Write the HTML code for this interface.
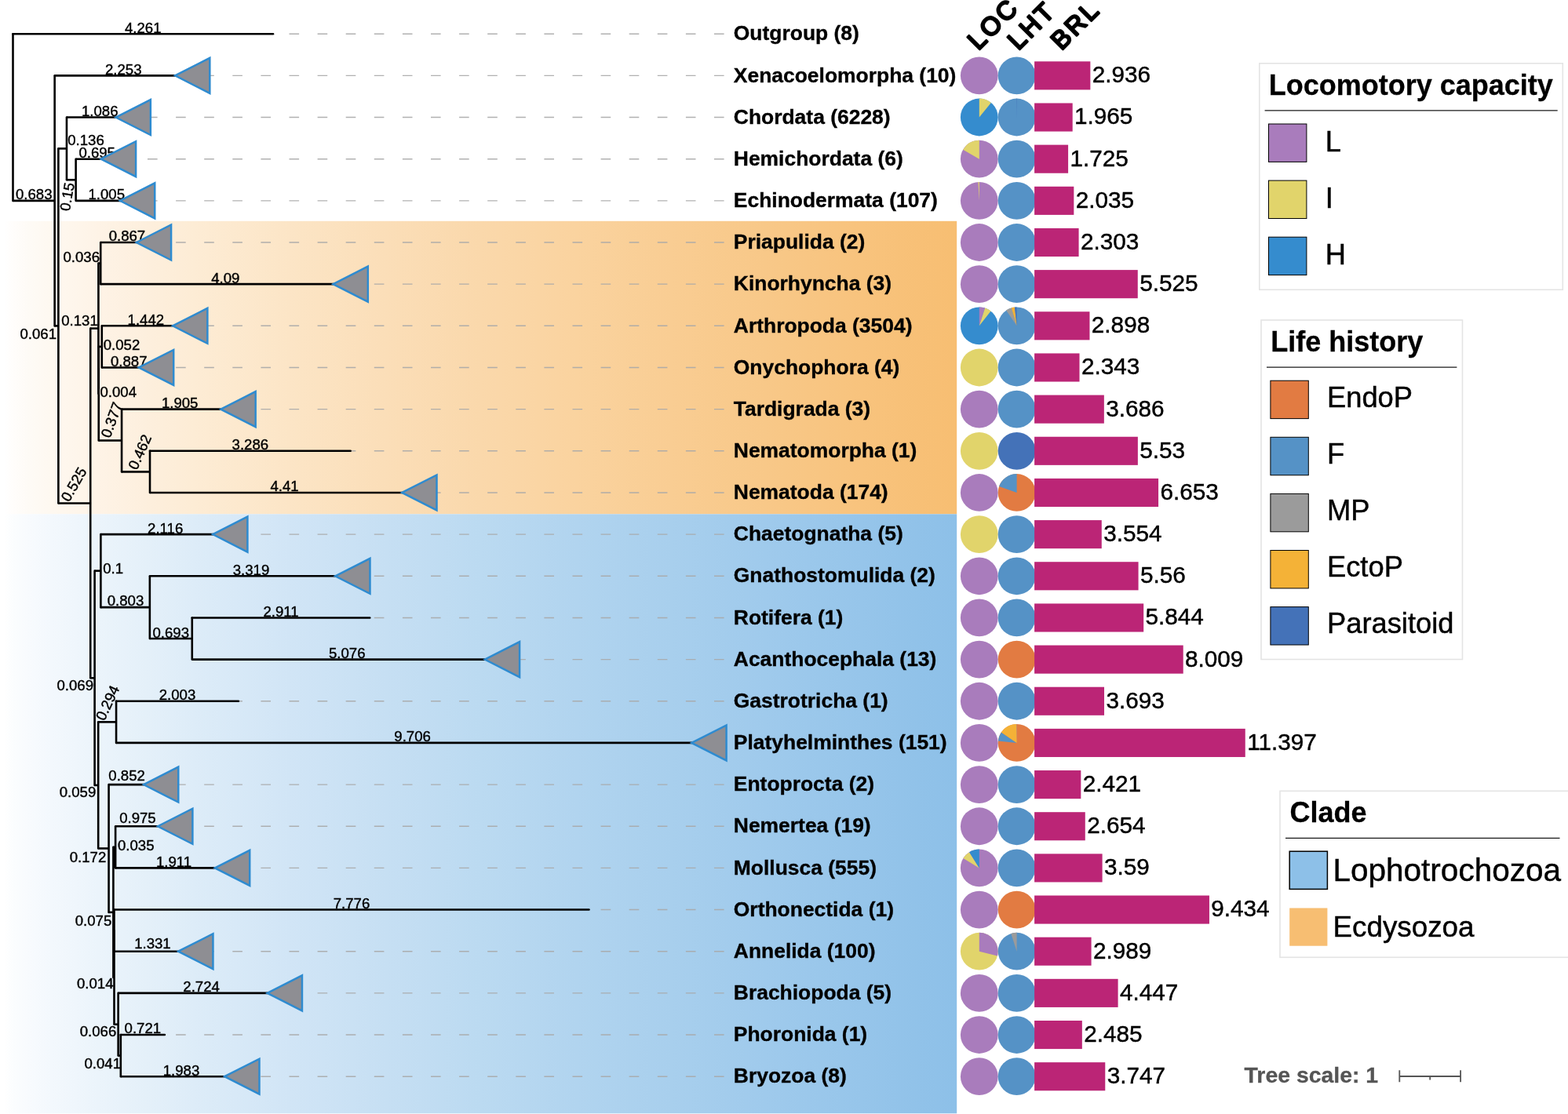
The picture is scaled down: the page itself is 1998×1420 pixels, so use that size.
<!DOCTYPE html>
<html lang="en"><head><meta charset="utf-8"><title>Phylogenetic tree</title>
<style>
html,body{margin:0;padding:0;background:#fff;}
body{width:1998px;height:1420px;overflow:hidden;}
svg{display:block;}
text{font-family:"Liberation Sans",sans-serif;}
.bl{font-size:18.6px;fill:#000;stroke:#000;stroke-width:0.4;}
.lf{font-size:26.45px;font-weight:bold;fill:#000;stroke:#000;stroke-width:0.35;}
.val{font-size:29.7px;fill:#000;stroke:#000;stroke-width:0.45;}
.hd{font-size:32.5px;fill:#000;stroke:#000;stroke-width:2.6;stroke-linejoin:round;stroke-linecap:round;letter-spacing:3px;}
.lt{font-size:36px;font-weight:bold;fill:#000;stroke:#000;stroke-width:0.3;}
.li{font-size:36.3px;fill:#000;stroke:#000;stroke-width:0.45;}
.lc{font-size:40.5px;fill:#000;stroke:#000;stroke-width:0.45;}
.lc2{font-size:36.8px;fill:#000;stroke:#000;stroke-width:0.45;}
.ts{font-size:28.4px;font-weight:bold;fill:#555;stroke:#555;stroke-width:0.3;}
</style></head><body>
<svg width="1998" height="1420" viewBox="0 0 1998 1420">
<defs>
<linearGradient id="gO" x1="0" y1="0" x2="1" y2="0"><stop offset="0" stop-color="#ffffff"/><stop offset="0.01" stop-color="#fffdfb"/><stop offset="0.025" stop-color="#fefbf6"/><stop offset="0.05" stop-color="#fef8f0"/><stop offset="0.1" stop-color="#fef3e6"/><stop offset="0.15" stop-color="#fdefdd"/><stop offset="0.2" stop-color="#fdecd5"/><stop offset="0.3" stop-color="#fce5c6"/><stop offset="0.4" stop-color="#fbdeb8"/><stop offset="0.5" stop-color="#fad8ab"/><stop offset="0.6" stop-color="#fad39f"/><stop offset="0.7" stop-color="#f9cd93"/><stop offset="0.8" stop-color="#f8c888"/><stop offset="0.9" stop-color="#f8c37d"/><stop offset="1" stop-color="#f7be72"/></linearGradient>
<linearGradient id="gB" x1="0" y1="0" x2="1" y2="0"><stop offset="0" stop-color="#ffffff"/><stop offset="0.01" stop-color="#fbfdfe"/><stop offset="0.025" stop-color="#f8fbfe"/><stop offset="0.05" stop-color="#f3f8fd"/><stop offset="0.1" stop-color="#ebf4fb"/><stop offset="0.15" stop-color="#e4f0f9"/><stop offset="0.2" stop-color="#ddecf8"/><stop offset="0.3" stop-color="#d1e5f6"/><stop offset="0.4" stop-color="#c6dff3"/><stop offset="0.5" stop-color="#bbdaf1"/><stop offset="0.6" stop-color="#b1d4ef"/><stop offset="0.7" stop-color="#a8cfed"/><stop offset="0.8" stop-color="#9fcaec"/><stop offset="0.9" stop-color="#96c5ea"/><stop offset="1" stop-color="#8dc0e8"/></linearGradient>
</defs>
<rect x="0" y="0" width="1998" height="1420" fill="#fff"/>
<rect x="5" y="281.8" width="1214.2" height="373.5" fill="url(#gO)"/>
<rect x="5" y="655.3" width="1214.2" height="764" fill="url(#gB)"/>

<g stroke="#a8a8a8" stroke-opacity="0.9" stroke-width="1.4" fill="none" stroke-dasharray="12.6 23.5">
<path d="M922.6 43.20H348.01"/>
<path d="M922.6 96.36H244.92"/>
<path d="M922.6 149.52H169.45"/>
<path d="M922.6 202.68H150.70"/>
<path d="M922.6 255.84H174.82"/>
<path d="M922.6 309.00H195.67"/>
<path d="M922.6 362.16H446.42"/>
<path d="M922.6 415.32H241.96"/>
<path d="M922.6 468.48H198.79"/>
<path d="M922.6 521.64H303.27"/>
<path d="M922.6 574.80H446.66"/>
<path d="M922.6 627.96H534.10"/>
<path d="M922.6 681.12H293.00"/>
<path d="M922.6 734.28H449.07"/>
<path d="M922.6 787.44H471.24"/>
<path d="M922.6 840.60H639.68"/>
<path d="M922.6 893.76H303.89"/>
<path d="M922.6 946.92H903.19"/>
<path d="M922.6 1000.08H204.85"/>
<path d="M922.6 1053.24H222.98"/>
<path d="M922.6 1106.40H295.80"/>
<path d="M922.6 1159.56H750.47"/>
<path d="M922.6 1212.72H249.04"/>
<path d="M922.6 1265.88H362.55"/>
<path d="M922.6 1319.04H209.91"/>
<path d="M922.6 1372.20H308.09"/>
</g>
<g class="bl" text-anchor="middle">
<text x="182.25" y="41.60">4.261</text>
<text x="157.28" y="94.76">2.253</text>
<text x="127.21" y="147.92">1.086</text>
<text x="123.67" y="201.08">0.695</text>
<text x="135.73" y="254.24">1.005</text>
<text x="161.95" y="307.40">0.867</text>
<text x="287.32" y="360.56">4.09</text>
<text x="185.87" y="413.72">1.442</text>
<text x="164.28" y="466.88">0.887</text>
<text x="229.17" y="520.04">1.905</text>
<text x="318.83" y="573.20">3.286</text>
<text x="362.55" y="626.36">4.41</text>
<text x="210.69" y="679.52">2.116</text>
<text x="319.96" y="732.68">3.319</text>
<text x="358.00" y="785.84">2.911</text>
<text x="442.22" y="839.00">5.076</text>
<text x="225.98" y="892.16">2.003</text>
<text x="525.62" y="945.32">9.706</text>
<text x="161.60" y="995.40">0.852</text>
<text x="175.40" y="1048.60">0.975</text>
<text x="221.46" y="1104.80">1.911</text>
<text x="447.98" y="1157.96">7.776</text>
<text x="194.40" y="1208.90">1.331</text>
<text x="256.59" y="1264.28">2.724</text>
<text x="181.86" y="1317.44">0.721</text>
<text x="230.96" y="1370.60">1.983</text>
</g>
<g class="bl">
<text x="20.00" y="253.75">0.683</text>
<text x="86.25" y="184.50">0.136</text>
<text x="80.50" y="333.75">0.036</text>
<text x="78.25" y="414.50">0.131</text>
<text x="25.50" y="432.30">0.061</text>
<text x="131.75" y="446.25">0.052</text>
<text x="127.50" y="506.25">0.004</text>
<text x="131.25" y="730.75">0.1</text>
<text x="136.75" y="772.00">0.803</text>
<text x="194.50" y="812.50">0.693</text>
<text x="72.50" y="879.50">0.069</text>
<text x="75.75" y="1016.25">0.059</text>
<text x="150.00" y="1084.25">0.035</text>
<text x="88.75" y="1098.75">0.172</text>
<text x="95.75" y="1179.50">0.075</text>
<text x="98.00" y="1259.50">0.014</text>
<text x="101.75" y="1321.25">0.066</text>
<text x="107.50" y="1361.75">0.041</text>
</g>
<g class="bl" text-anchor="middle">
<text transform="translate(85.5 250.7) rotate(-80)" x="0" y="6.4">0.15</text>
<text transform="translate(142.2 535.2) rotate(-70)" x="0" y="6.4">0.377</text>
<text transform="translate(178.2 576.2) rotate(-66)" x="0" y="6.4">0.462</text>
<text transform="translate(94 617.5) rotate(-60)" x="0" y="6.4">0.525</text>
<text transform="translate(137 896) rotate(-65)" x="0" y="6.4">0.294</text>
</g>
<g stroke="#000" stroke-width="2.6" fill="none" stroke-linecap="round" stroke-linejoin="round">
<path d="M16.50 43.20L16.50 255.89"/>
<path d="M16.50 43.20L348.01 43.20"/>
<path d="M69.64 96.36L69.64 415.42"/>
<path d="M74.38 189.39L74.38 641.46"/>
<path d="M84.96 149.52L84.96 229.26"/>
<path d="M96.63 202.68L96.63 255.84"/>
<path d="M115.23 418.64L115.23 864.27"/>
<path d="M125.42 335.58L125.42 501.70"/>
<path d="M128.22 309.00L128.22 362.16"/>
<path d="M125.73 441.90L125.73 561.51"/>
<path d="M129.78 415.32L129.78 468.48"/>
<path d="M155.06 521.64L155.06 601.38"/>
<path d="M191.01 574.80L191.01 627.96"/>
<path d="M191.01 574.80L446.66 574.80"/>
<path d="M120.60 727.63L120.60 1000.91"/>
<path d="M128.38 681.12L128.38 774.15"/>
<path d="M190.85 734.28L190.85 814.02"/>
<path d="M244.77 787.44L244.77 840.60"/>
<path d="M244.77 787.44L471.24 787.44"/>
<path d="M125.19 920.34L125.19 1081.48"/>
<path d="M148.06 893.76L148.06 946.92"/>
<path d="M148.06 893.76L303.89 893.76"/>
<path d="M138.57 1000.08L138.57 1162.88"/>
<path d="M144.40 1079.82L144.40 1245.94"/>
<path d="M147.13 1053.24L147.13 1106.40"/>
<path d="M145.49 1186.14L145.49 1305.75"/>
<path d="M145.49 1159.56L145.49 1212.72"/>
<path d="M145.49 1159.56L750.47 1159.56"/>
<path d="M150.63 1265.88L150.63 1345.62"/>
<path d="M153.82 1319.04L153.82 1372.20"/>
<path d="M153.82 1319.04L209.91 1319.04"/>
</g>
<rect x="144.40" y="1079.82" width="2.72" height="26.58" fill="#000"/>
<g stroke="#000" stroke-width="2.6" fill="none" stroke-linecap="butt">
<path d="M16.50 255.89L69.64 255.89"/>
<path d="M69.64 96.36L224.92 96.36"/>
<path d="M69.64 415.42L74.38 415.42"/>
<path d="M74.38 189.39L84.96 189.39"/>
<path d="M84.96 149.52L149.45 149.52"/>
<path d="M84.96 229.26L96.63 229.26"/>
<path d="M96.63 202.68L130.70 202.68"/>
<path d="M96.63 255.84L154.82 255.84"/>
<path d="M74.38 641.46L115.23 641.46"/>
<path d="M115.23 418.64L125.42 418.64"/>
<path d="M125.42 335.58L128.22 335.58"/>
<path d="M128.22 309.00L175.67 309.00"/>
<path d="M128.22 362.16L426.42 362.16"/>
<path d="M125.42 501.70L125.73 501.70"/>
<path d="M125.73 441.90L129.78 441.90"/>
<path d="M129.78 415.32L221.96 415.32"/>
<path d="M129.78 468.48L178.79 468.48"/>
<path d="M125.73 561.51L155.06 561.51"/>
<path d="M155.06 521.64L283.27 521.64"/>
<path d="M155.06 601.38L191.01 601.38"/>
<path d="M191.01 627.96L514.10 627.96"/>
<path d="M115.23 864.27L120.60 864.27"/>
<path d="M120.60 727.63L128.38 727.63"/>
<path d="M128.38 681.12L273.00 681.12"/>
<path d="M128.38 774.15L190.85 774.15"/>
<path d="M190.85 734.28L429.07 734.28"/>
<path d="M190.85 814.02L244.77 814.02"/>
<path d="M244.77 840.60L619.68 840.60"/>
<path d="M120.60 1000.91L125.19 1000.91"/>
<path d="M125.19 920.34L148.06 920.34"/>
<path d="M148.06 946.92L883.19 946.92"/>
<path d="M125.19 1081.48L138.57 1081.48"/>
<path d="M138.57 1000.08L184.85 1000.08"/>
<path d="M138.57 1162.88L144.40 1162.88"/>
<path d="M144.40 1079.82L147.13 1079.82"/>
<path d="M147.13 1053.24L202.98 1053.24"/>
<path d="M147.13 1106.40L275.80 1106.40"/>
<path d="M144.40 1245.94L145.49 1245.94"/>
<path d="M145.49 1212.72L229.04 1212.72"/>
<path d="M145.49 1305.75L150.63 1305.75"/>
<path d="M150.63 1265.88L342.55 1265.88"/>
<path d="M150.63 1345.62L153.82 1345.62"/>
<path d="M153.82 1372.20L288.09 1372.20"/>
</g>
<g fill="#8E8E93" stroke="#2E8BD0" stroke-width="2.5" stroke-linejoin="miter">
<path d="M223.02 96.36L267.32 73.86V118.86Z"/>
<path d="M147.55 149.52L191.85 127.02V172.02Z"/>
<path d="M128.80 202.68L173.10 180.18V225.18Z"/>
<path d="M152.92 255.84L197.22 233.34V278.34Z"/>
<path d="M173.77 309.00L218.07 286.50V331.50Z"/>
<path d="M424.52 362.16L468.82 339.66V384.66Z"/>
<path d="M220.06 415.32L264.36 392.82V437.82Z"/>
<path d="M176.89 468.48L221.19 445.98V490.98Z"/>
<path d="M281.37 521.64L325.67 499.14V544.14Z"/>
<path d="M512.20 627.96L556.50 605.46V650.46Z"/>
<path d="M271.10 681.12L315.40 658.62V703.62Z"/>
<path d="M427.17 734.28L471.47 711.78V756.78Z"/>
<path d="M617.78 840.60L662.08 818.10V863.10Z"/>
<path d="M881.29 946.92L925.59 924.42V969.42Z"/>
<path d="M182.95 1000.08L227.25 977.58V1022.58Z"/>
<path d="M201.08 1053.24L245.38 1030.74V1075.74Z"/>
<path d="M273.90 1106.40L318.20 1083.90V1128.90Z"/>
<path d="M227.14 1212.72L271.44 1190.22V1235.22Z"/>
<path d="M340.65 1265.88L384.95 1243.38V1288.38Z"/>
<path d="M286.19 1372.20L330.49 1349.70V1394.70Z"/>
</g>
<g class="lf">
<text x="934.8" y="51.40">Outgroup (8)</text>
<text x="934.8" y="104.56">Xenacoelomorpha (10)</text>
<text x="934.8" y="157.72">Chordata (6228)</text>
<text x="934.8" y="210.88">Hemichordata (6)</text>
<text x="934.8" y="264.04">Echinodermata (107)</text>
<text x="934.8" y="317.20">Priapulida (2)</text>
<text x="934.8" y="370.36">Kinorhyncha (3)</text>
<text x="934.8" y="423.52">Arthropoda (3504)</text>
<text x="934.8" y="476.68">Onychophora (4)</text>
<text x="934.8" y="529.84">Tardigrada (3)</text>
<text x="934.8" y="583.00">Nematomorpha (1)</text>
<text x="934.8" y="636.16">Nematoda (174)</text>
<text x="934.8" y="689.32">Chaetognatha (5)</text>
<text x="934.8" y="742.48">Gnathostomulida (2)</text>
<text x="934.8" y="795.64">Rotifera (1)</text>
<text x="934.8" y="848.80">Acanthocephala (13)</text>
<text x="934.8" y="901.96">Gastrotricha (1)</text>
<text x="934.8" y="955.12">Platyhelminthes (151)</text>
<text x="934.8" y="1008.28">Entoprocta (2)</text>
<text x="934.8" y="1061.44">Nemertea (19)</text>
<text x="934.8" y="1114.60">Mollusca (555)</text>
<text x="934.8" y="1167.76">Orthonectida (1)</text>
<text x="934.8" y="1220.92">Annelida (100)</text>
<text x="934.8" y="1274.08">Brachiopoda (5)</text>
<text x="934.8" y="1327.24">Phoronida (1)</text>
<text x="934.8" y="1380.40">Bryozoa (8)</text>
</g>
<g>
<circle cx="1247.80" cy="96.36" r="23.9" fill="#A97CBC"/>
<circle cx="1295.60" cy="96.36" r="23.9" fill="#5592C6"/>
<circle cx="1247.80" cy="149.52" r="23.9" fill="#358CCE"/>
<path d="M1247.80 149.52L1247.80 125.62A23.9 23.9 0 0 1 1262.78 130.89Z" fill="#E1D46B"/>
<circle cx="1295.60" cy="149.52" r="23.9" fill="#5592C6"/>
<path d="M1295.60 149.52L1295.18 125.62A23.9 23.9 0 0 1 1295.60 125.62Z" fill="#4472B8"/>
<circle cx="1247.80" cy="202.68" r="23.9" fill="#A97CBC"/>
<path d="M1247.80 202.68L1227.10 190.73A23.9 23.9 0 0 1 1247.80 178.78Z" fill="#E1D46B"/>
<circle cx="1295.60" cy="202.68" r="23.9" fill="#5592C6"/>
<circle cx="1247.80" cy="255.84" r="23.9" fill="#A97CBC"/>
<path d="M1247.80 255.84L1246.38 231.98A23.9 23.9 0 0 1 1247.80 231.94Z" fill="#E1D46B"/>
<circle cx="1295.60" cy="255.84" r="23.9" fill="#5592C6"/>
<circle cx="1247.80" cy="309.00" r="23.9" fill="#A97CBC"/>
<circle cx="1295.60" cy="309.00" r="23.9" fill="#5592C6"/>
<circle cx="1247.80" cy="362.16" r="23.9" fill="#A97CBC"/>
<circle cx="1295.60" cy="362.16" r="23.9" fill="#5592C6"/>
<circle cx="1247.80" cy="415.32" r="23.9" fill="#358CCE"/>
<path d="M1247.80 415.32L1247.80 391.42A23.9 23.9 0 0 1 1255.19 392.59Z" fill="#A97CBC"/>
<path d="M1247.80 415.32L1255.19 392.59A23.9 23.9 0 0 1 1262.58 396.54Z" fill="#E1D46B"/>
<circle cx="1295.60" cy="415.32" r="23.9" fill="#5592C6"/>
<path d="M1295.60 415.32L1282.06 395.62A23.9 23.9 0 0 1 1288.69 392.44Z" fill="#9B9B9B"/>
<path d="M1295.60 415.32L1288.69 392.44A23.9 23.9 0 0 1 1292.94 391.57Z" fill="#F4B237"/>
<path d="M1295.60 415.32L1292.94 391.57A23.9 23.9 0 0 1 1295.60 391.42Z" fill="#4472B8"/>
<circle cx="1247.80" cy="468.48" r="23.9" fill="#E1D46B"/>
<circle cx="1295.60" cy="468.48" r="23.9" fill="#5592C6"/>
<circle cx="1247.80" cy="521.64" r="23.9" fill="#A97CBC"/>
<circle cx="1295.60" cy="521.64" r="23.9" fill="#5592C6"/>
<circle cx="1247.80" cy="574.80" r="23.9" fill="#E1D46B"/>
<circle cx="1295.60" cy="574.80" r="23.9" fill="#4472B8"/>
<circle cx="1247.80" cy="627.96" r="23.9" fill="#A97CBC"/>
<circle cx="1295.60" cy="627.96" r="23.9" fill="#E27B42"/>
<path d="M1295.60 627.96L1273.07 619.98A23.9 23.9 0 0 1 1295.60 604.06Z" fill="#5592C6"/>
<circle cx="1247.80" cy="681.12" r="23.9" fill="#E1D46B"/>
<circle cx="1295.60" cy="681.12" r="23.9" fill="#5592C6"/>
<circle cx="1247.80" cy="734.28" r="23.9" fill="#A97CBC"/>
<circle cx="1295.60" cy="734.28" r="23.9" fill="#5592C6"/>
<circle cx="1247.80" cy="787.44" r="23.9" fill="#A97CBC"/>
<circle cx="1295.60" cy="787.44" r="23.9" fill="#5592C6"/>
<circle cx="1247.80" cy="840.60" r="23.9" fill="#A97CBC"/>
<circle cx="1295.60" cy="840.60" r="23.9" fill="#E27B42"/>
<circle cx="1247.80" cy="893.76" r="23.9" fill="#A97CBC"/>
<circle cx="1295.60" cy="893.76" r="23.9" fill="#5592C6"/>
<circle cx="1247.80" cy="946.92" r="23.9" fill="#A97CBC"/>
<circle cx="1295.60" cy="946.92" r="23.9" fill="#E27B42"/>
<path d="M1295.60 946.92L1271.83 944.42A23.9 23.9 0 0 1 1275.90 933.38Z" fill="#5592C6"/>
<path d="M1295.60 946.92L1275.90 933.38A23.9 23.9 0 0 1 1295.18 923.02Z" fill="#F4B237"/>
<path d="M1295.60 946.92L1295.18 923.02A23.9 23.9 0 0 1 1295.60 923.02Z" fill="#9B9B9B"/>
<circle cx="1247.80" cy="1000.08" r="23.9" fill="#A97CBC"/>
<circle cx="1295.60" cy="1000.08" r="23.9" fill="#5592C6"/>
<circle cx="1247.80" cy="1053.24" r="23.9" fill="#A97CBC"/>
<circle cx="1295.60" cy="1053.24" r="23.9" fill="#5592C6"/>
<circle cx="1247.80" cy="1106.40" r="23.9" fill="#A97CBC"/>
<path d="M1247.80 1106.40L1227.36 1094.02A23.9 23.9 0 0 1 1235.10 1086.15Z" fill="#E1D46B"/>
<path d="M1247.80 1106.40L1235.10 1086.15A23.9 23.9 0 0 1 1247.80 1082.50Z" fill="#358CCE"/>
<circle cx="1295.60" cy="1106.40" r="23.9" fill="#5592C6"/>
<circle cx="1247.80" cy="1159.56" r="23.9" fill="#A97CBC"/>
<circle cx="1295.60" cy="1159.56" r="23.9" fill="#E27B42"/>
<circle cx="1247.80" cy="1212.72" r="23.9" fill="#E1D46B"/>
<path d="M1247.80 1212.72L1247.80 1188.82A23.9 23.9 0 0 1 1270.96 1218.62Z" fill="#A97CBC"/>
<circle cx="1295.60" cy="1212.72" r="23.9" fill="#5592C6"/>
<path d="M1295.60 1212.72L1288.29 1189.96A23.9 23.9 0 0 1 1295.60 1188.82Z" fill="#9B9B9B"/>
<circle cx="1247.80" cy="1265.88" r="23.9" fill="#A97CBC"/>
<circle cx="1295.60" cy="1265.88" r="23.9" fill="#5592C6"/>
<circle cx="1247.80" cy="1319.04" r="23.9" fill="#A97CBC"/>
<circle cx="1295.60" cy="1319.04" r="23.9" fill="#5592C6"/>
<circle cx="1247.80" cy="1372.20" r="23.9" fill="#A97CBC"/>
<circle cx="1295.60" cy="1372.20" r="23.9" fill="#5592C6"/>
</g>
<g fill="#BB2576">
<rect x="1318.1" y="78.31" width="71.25" height="36.1"/>
<rect x="1318.1" y="131.47" width="48.59" height="36.1"/>
<rect x="1318.1" y="184.63" width="42.99" height="36.1"/>
<rect x="1318.1" y="237.79" width="50.23" height="36.1"/>
<rect x="1318.1" y="290.95" width="56.48" height="36.1"/>
<rect x="1318.1" y="344.11" width="131.65" height="36.1"/>
<rect x="1318.1" y="397.27" width="70.36" height="36.1"/>
<rect x="1318.1" y="450.43" width="57.41" height="36.1"/>
<rect x="1318.1" y="503.59" width="88.74" height="36.1"/>
<rect x="1318.1" y="556.75" width="131.76" height="36.1"/>
<rect x="1318.1" y="609.91" width="157.96" height="36.1"/>
<rect x="1318.1" y="663.07" width="85.66" height="36.1"/>
<rect x="1318.1" y="716.23" width="132.46" height="36.1"/>
<rect x="1318.1" y="769.39" width="139.09" height="36.1"/>
<rect x="1318.1" y="822.55" width="189.60" height="36.1"/>
<rect x="1318.1" y="875.71" width="88.91" height="36.1"/>
<rect x="1318.1" y="928.87" width="268.64" height="36.1"/>
<rect x="1318.1" y="982.03" width="59.23" height="36.1"/>
<rect x="1318.1" y="1035.19" width="64.67" height="36.1"/>
<rect x="1318.1" y="1088.35" width="86.50" height="36.1"/>
<rect x="1318.1" y="1141.51" width="222.85" height="36.1"/>
<rect x="1318.1" y="1194.67" width="72.48" height="36.1"/>
<rect x="1318.1" y="1247.83" width="106.50" height="36.1"/>
<rect x="1318.1" y="1300.99" width="60.73" height="36.1"/>
<rect x="1318.1" y="1354.15" width="90.17" height="36.1"/>
</g>
<g class="val">
<text x="1391.75" y="105.26">2.936</text>
<text x="1369.09" y="158.42">1.965</text>
<text x="1363.49" y="211.58">1.725</text>
<text x="1370.73" y="264.74">2.035</text>
<text x="1376.98" y="317.90">2.303</text>
<text x="1452.15" y="371.06">5.525</text>
<text x="1390.86" y="424.22">2.898</text>
<text x="1377.91" y="477.38">2.343</text>
<text x="1409.24" y="530.54">3.686</text>
<text x="1452.26" y="583.70">5.53</text>
<text x="1478.46" y="636.86">6.653</text>
<text x="1406.16" y="690.02">3.554</text>
<text x="1452.96" y="743.18">5.56</text>
<text x="1459.59" y="796.34">5.844</text>
<text x="1510.10" y="849.50">8.009</text>
<text x="1409.41" y="902.66">3.693</text>
<text x="1589.14" y="955.82">11.397</text>
<text x="1379.73" y="1008.98">2.421</text>
<text x="1385.17" y="1062.14">2.654</text>
<text x="1407.00" y="1115.30">3.59</text>
<text x="1543.35" y="1168.46">9.434</text>
<text x="1392.98" y="1221.62">2.989</text>
<text x="1427.00" y="1274.78">4.447</text>
<text x="1381.23" y="1327.94">2.485</text>
<text x="1410.67" y="1381.10">3.747</text>
</g>
<text class="hd" transform="translate(1246.5 65) rotate(-45)">LOC</text>
<text class="hd" transform="translate(1297.5 65) rotate(-45)">LHT</text>
<text class="hd" transform="translate(1352.6 65) rotate(-45)">BRL</text>
<rect x="1604.8" y="80.8" width="386.5" height="288.5" fill="#fff" stroke="#e4e4e4" stroke-width="1.6"/>
<text class="lt" x="1616.7" y="120.8">Locomotory capacity</text>
<path d="M1611.6 140.9H1984.7" stroke="#1a1a1a" stroke-width="1.3"/>
<rect x="1616.5" y="158.00" width="48.4" height="48.4" fill="#A97CBC" stroke="#000" stroke-width="1"/>
<text class="li" x="1688.7" y="192.60">L</text>
<rect x="1616.5" y="230.10" width="48.4" height="48.4" fill="#E1D46B" stroke="#000" stroke-width="1"/>
<text class="li" x="1688.7" y="264.70">I</text>
<rect x="1616.5" y="302.20" width="48.4" height="48.4" fill="#358CCE" stroke="#000" stroke-width="1"/>
<text class="li" x="1688.7" y="336.80">H</text>
<rect x="1607" y="408" width="256.5" height="432.5" fill="#fff" stroke="#e4e4e4" stroke-width="1.6"/>
<text class="lt" x="1619.2" y="448.3">Life history</text>
<path d="M1614 468.1H1856.4" stroke="#1a1a1a" stroke-width="1.3"/>
<rect x="1618.9" y="485.20" width="48.4" height="48.4" fill="#E27B42" stroke="#000" stroke-width="1"/>
<text class="li" x="1691" y="518.60">EndoP</text>
<rect x="1618.9" y="557.30" width="48.4" height="48.4" fill="#5592C6" stroke="#000" stroke-width="1"/>
<text class="li" x="1691" y="590.70">F</text>
<rect x="1618.9" y="629.40" width="48.4" height="48.4" fill="#9B9B9B" stroke="#000" stroke-width="1"/>
<text class="li" x="1691" y="662.80">MP</text>
<rect x="1618.9" y="701.50" width="48.4" height="48.4" fill="#F4B237" stroke="#000" stroke-width="1"/>
<text class="li" x="1691" y="734.90">EctoP</text>
<rect x="1618.9" y="773.60" width="48.4" height="48.4" fill="#4472B8" stroke="#000" stroke-width="1"/>
<text class="li" x="1691" y="807.00">Parasitoid</text>
<rect x="1631" y="1008.3" width="380" height="212" fill="#fff" stroke="#e4e4e4" stroke-width="1.6"/>
<text class="lt" x="1643.6" y="1047.6">Clade</text>
<path d="M1638 1068.3H1987.5" stroke="#1a1a1a" stroke-width="1.3"/>
<rect x="1643.2" y="1085.20" width="48.2" height="48.2" fill="#8DC0E8" stroke="#000" stroke-width="1.5"/>
<text class="lc" x="1698.5" y="1122.60">Lophotrochozoa</text>
<rect x="1643.2" y="1157.50" width="48.2" height="48.2" fill="#F7BE72"/>
<text class="lc2" x="1698.5" y="1194.00">Ecdysozoa</text>
<text class="ts" x="1585.6" y="1380.2">Tree scale: 1</text>
<path d="M1783.3 1372H1861.1M1783.3 1364.3V1379.3M1861.1 1364.3V1379.3M1822.2 1372V1376.6" stroke="#555" stroke-width="1.8" fill="none"/>
</svg></body></html>
